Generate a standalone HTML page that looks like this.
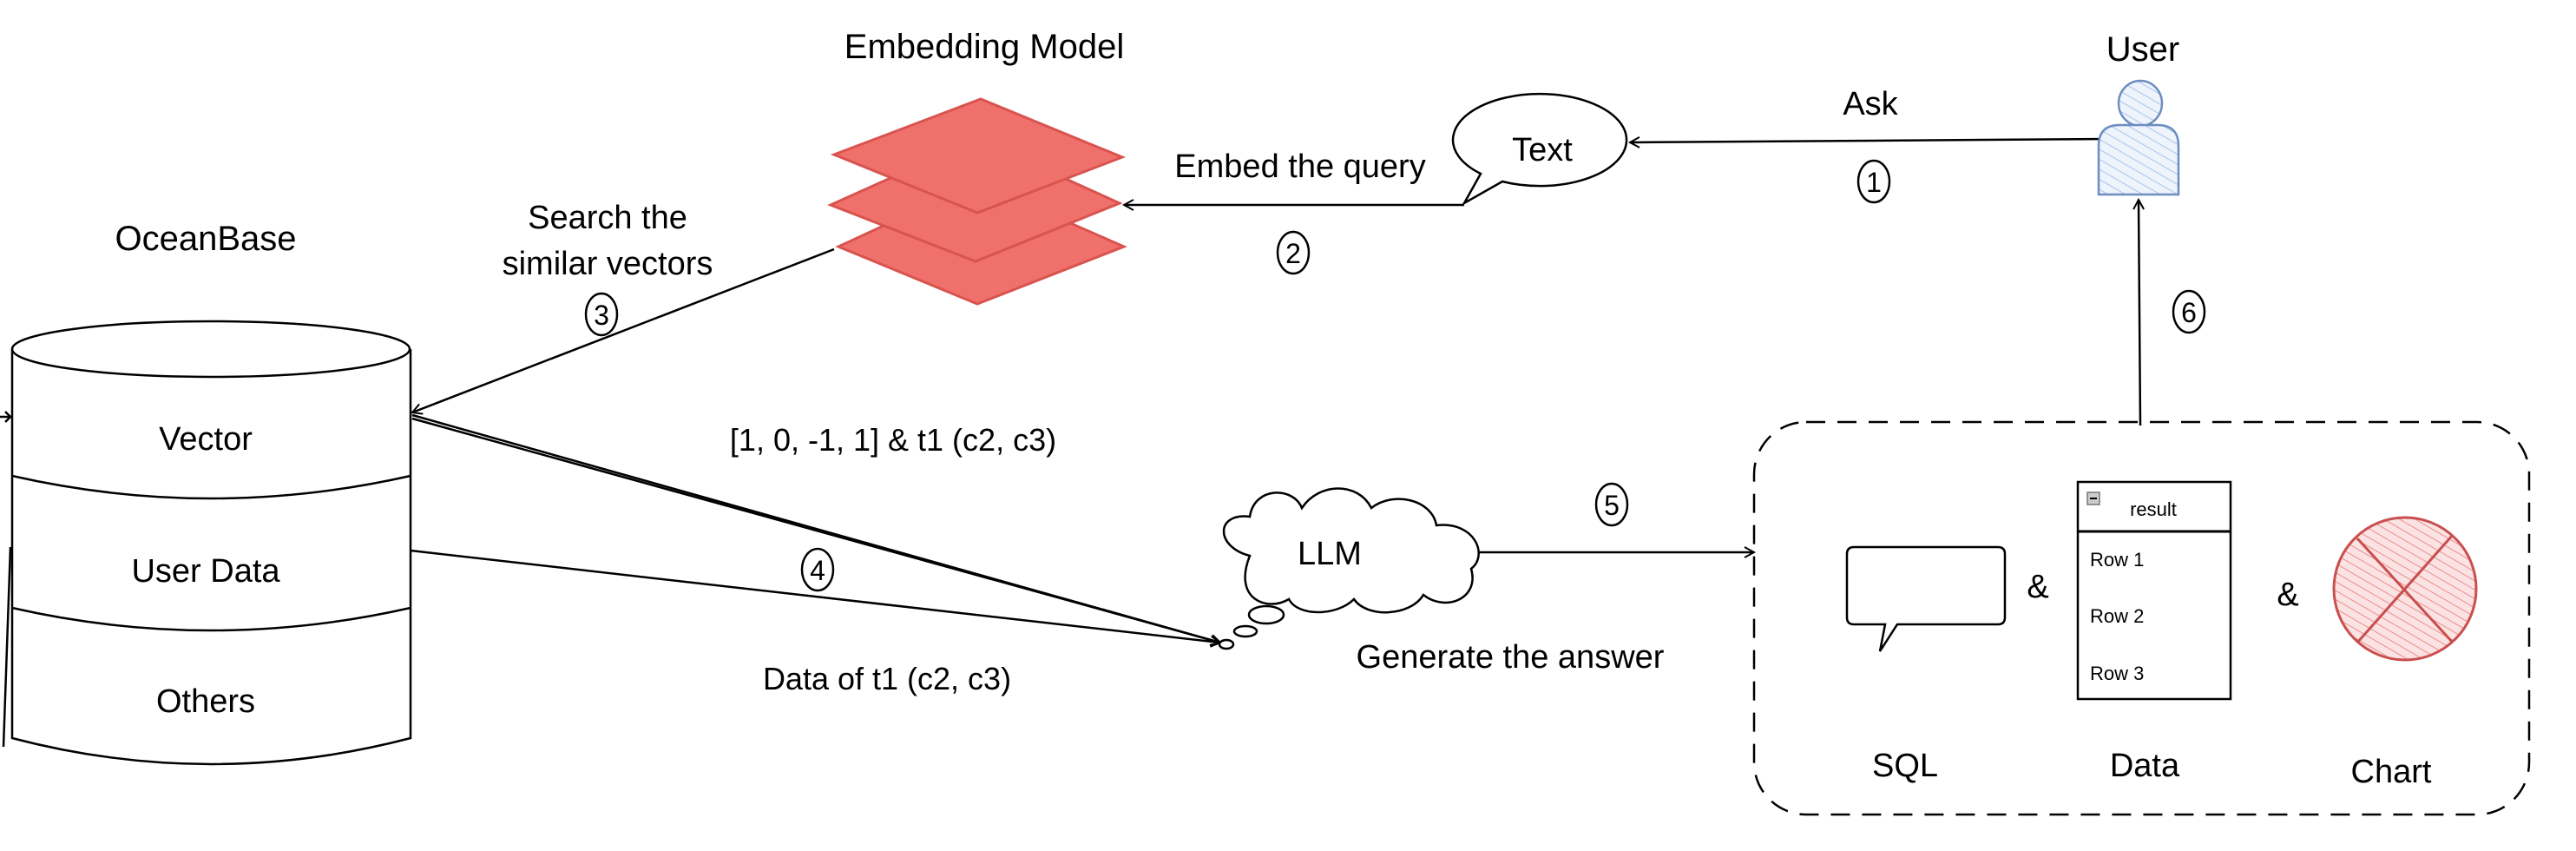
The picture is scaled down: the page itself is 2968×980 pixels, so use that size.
<!DOCTYPE html>
<html><head><meta charset="utf-8"><style>
html,body{margin:0;padding:0;background:#fff;}
svg{display:block}
text{font-family:"Liberation Sans",sans-serif;fill:#000;}
</style></head><body>
<svg width="2968" height="980" viewBox="0 0 2968 980" xmlns="http://www.w3.org/2000/svg">
<defs>
<marker id="ah" markerWidth="14" markerHeight="14" refX="12" refY="7" orient="auto" markerUnits="userSpaceOnUse">
<path d="M1,1 L12,7 L1,13" fill="none" stroke="#000" stroke-width="2"/>
</marker>
<pattern id="hb" width="10" height="10" patternUnits="userSpaceOnUse" patternTransform="rotate(-60)">
<rect width="10" height="10" fill="#eef3fc"/><line x1="0" y1="0" x2="0" y2="10" stroke="#aac4ea" stroke-width="2"/>
</pattern>
<pattern id="hr" width="9" height="9" patternUnits="userSpaceOnUse" patternTransform="rotate(-60)">
<rect width="9" height="9" fill="#fbe3e3"/><line x1="0" y1="0" x2="0" y2="9" stroke="#eb8d8d" stroke-width="2"/>
</pattern>
</defs>
<g stroke="#000" stroke-width="2.5" fill="none">
<!-- texts top -->
</g>
<text x="1134" y="67" font-size="40" text-anchor="middle">Embedding Model</text>
<text x="237" y="288" font-size="40" text-anchor="middle">OceanBase</text>
<text x="700" y="263" font-size="38" text-anchor="middle">Search the</text>
<text x="700" y="316" font-size="38" text-anchor="middle">similar vectors</text>
<text x="1498" y="204" font-size="38" text-anchor="middle">Embed the query</text>
<text x="2155" y="132" font-size="38" text-anchor="middle">Ask</text>
<text x="2469" y="70" font-size="40" text-anchor="middle">User</text>

<!-- embedding layers -->
<g fill="#f0716c" stroke="#d9534f" stroke-width="3">
<polygon points="966,284 1126,210 1295,284 1126,350"/>
<polygon points="957,236 1126,160 1290,234 1124,301"/>
<polygon points="961,178 1130,114 1293,181 1126,245"/>
</g>

<!-- cylinder -->
<g stroke="#000" stroke-width="2.5" fill="none">
<path d="M14,402 L14,850 Q243,910 473,850 L473,402"/>
<ellipse cx="243" cy="402" rx="229" ry="32" fill="#fff"/>
<path d="M14,548 Q243,600 473,548"/>
<path d="M14,700 Q243,752 473,700"/>
<path d="M0,480 L12,480 M6,474 L12,480 L6,486"/>
<path d="M12,630 L4,860"/>
</g>
<text x="237" y="518" font-size="38" text-anchor="middle">Vector</text>
<text x="237" y="670" font-size="38" text-anchor="middle">User Data</text>
<text x="237" y="820" font-size="38" text-anchor="middle">Others</text>

<!-- connectors -->
<g stroke="#000" stroke-width="2.5" fill="none">
<line x1="961" y1="287" x2="475" y2="475" marker-end="url(#ah)"/>
<line x1="475" y1="478" x2="1406" y2="740"/>
<line x1="475" y1="482" x2="1406" y2="740" marker-end="url(#ah)"/>
<line x1="473" y1="634" x2="1406" y2="740" marker-end="url(#ah)"/>
<line x1="1687" y1="236" x2="1295" y2="236" marker-end="url(#ah)"/>
<line x1="2428" y1="160" x2="1878" y2="164" marker-end="url(#ah)"/>
<line x1="2466" y1="490" x2="2464" y2="230" marker-end="url(#ah)"/>
<line x1="1704" y1="636" x2="2021" y2="636" marker-end="url(#ah)"/>
</g>
<text x="1029" y="519" font-size="36" text-anchor="middle">[1, 0, -1, 1] &amp; t1 (c2, c3)</text>
<text x="1022" y="794" font-size="36" text-anchor="middle">Data of t1 (c2, c3)</text>

<!-- number circles -->
<g stroke="#000" stroke-width="2.5" fill="none">
<ellipse cx="693" cy="362" rx="18" ry="24"/>
<ellipse cx="1490" cy="291" rx="18" ry="24"/>
<ellipse cx="942" cy="656" rx="18" ry="24"/>
<ellipse cx="2159" cy="209" rx="18" ry="24"/>
<ellipse cx="2522" cy="359" rx="18" ry="24"/>
<ellipse cx="1857" cy="581" rx="18" ry="24"/>
</g>
<g font-size="32" text-anchor="middle">
<text x="693" y="374">3</text><text x="1490" y="303">2</text><text x="942" y="668">4</text>
<text x="2159" y="221">1</text><text x="2522" y="371">6</text><text x="1857" y="593">5</text>
</g>

<!-- text bubble -->
<g stroke="#000" stroke-width="2.5" fill="#fff">
<path d="M1706,200 A100,53 0 1 1 1731,209 L1687,234 Z"/>
</g>
<text x="1777" y="185" font-size="38" text-anchor="middle">Text</text>

<!-- user -->
<g stroke="#6c8ebf" stroke-width="2.5" fill="url(#hb)">
<ellipse cx="2466" cy="119" rx="25" ry="26"/>
<path d="M2418,224 L2418,168 Q2418,144 2442,144 L2486,144 Q2510,144 2510,168 L2510,224 Z"/>
</g>

<!-- LLM cloud -->
<g stroke="#000" stroke-width="2.5" fill="#fff">
<path d="M1440,640 C1400,630 1400,590 1440,595 C1445,560 1490,560 1500,585 C1520,555 1565,555 1580,585 C1605,565 1650,575 1655,605 C1700,600 1715,640 1695,655 C1705,690 1665,705 1640,685 C1625,710 1575,712 1560,690 C1540,710 1495,710 1485,690 C1460,705 1420,690 1440,640 Z"/>
<ellipse cx="1459" cy="708" rx="20" ry="10"/>
<ellipse cx="1435" cy="727" rx="13" ry="6"/>
<ellipse cx="1413" cy="742" rx="8" ry="5"/>
</g>
<text x="1532" y="650" font-size="38" text-anchor="middle">LLM</text>
<text x="1740" y="769" font-size="38" text-anchor="middle">Generate the answer</text>

<!-- dashed box -->
<rect x="2021" y="486" width="893" height="452" rx="60" stroke="#000" stroke-width="2.5" fill="none" stroke-dasharray="22,14"/>

<!-- SQL bubble -->
<path d="M2136,630 L2302,630 Q2310,630 2310,638 L2310,711 Q2310,719 2302,719 L2186,719 L2166,750 L2172,719 L2136,719 Q2128,719 2128,711 L2128,638 Q2128,630 2136,630 Z" stroke="#000" stroke-width="2.5" fill="#fff"/>
<text x="2195" y="894" font-size="38" text-anchor="middle">SQL</text>
<text x="2348" y="688" font-size="38" text-anchor="middle">&amp;</text>
<text x="2636" y="697" font-size="38" text-anchor="middle">&amp;</text>

<!-- data table -->
<rect x="2394" y="555" width="176" height="250" stroke="#000" stroke-width="2.5" fill="#fff"/>
<line x1="2394" y1="612" x2="2570" y2="612" stroke="#000" stroke-width="3"/>
<rect x="2405" y="567" width="14" height="14" fill="#ccc" stroke="#777" stroke-width="1.5"/>
<line x1="2408" y1="574" x2="2416" y2="574" stroke="#000" stroke-width="2"/>
<text x="2481" y="594" font-size="22" text-anchor="middle">result</text>
<text x="2408" y="652" font-size="22">Row 1</text>
<text x="2408" y="717" font-size="22">Row 2</text>
<text x="2408" y="783" font-size="22">Row 3</text>
<text x="2471" y="894" font-size="38" text-anchor="middle">Data</text>

<!-- chart -->
<circle cx="2771" cy="678" r="82" fill="url(#hr)" stroke="#c94f4f" stroke-width="3"/>
<line x1="2716" y1="620" x2="2826" y2="740" stroke="#c94f4f" stroke-width="3"/>
<line x1="2826" y1="616" x2="2716" y2="740" stroke="#c94f4f" stroke-width="3"/>
<text x="2755" y="901" font-size="38" text-anchor="middle">Chart</text>
</svg>
</body></html>
